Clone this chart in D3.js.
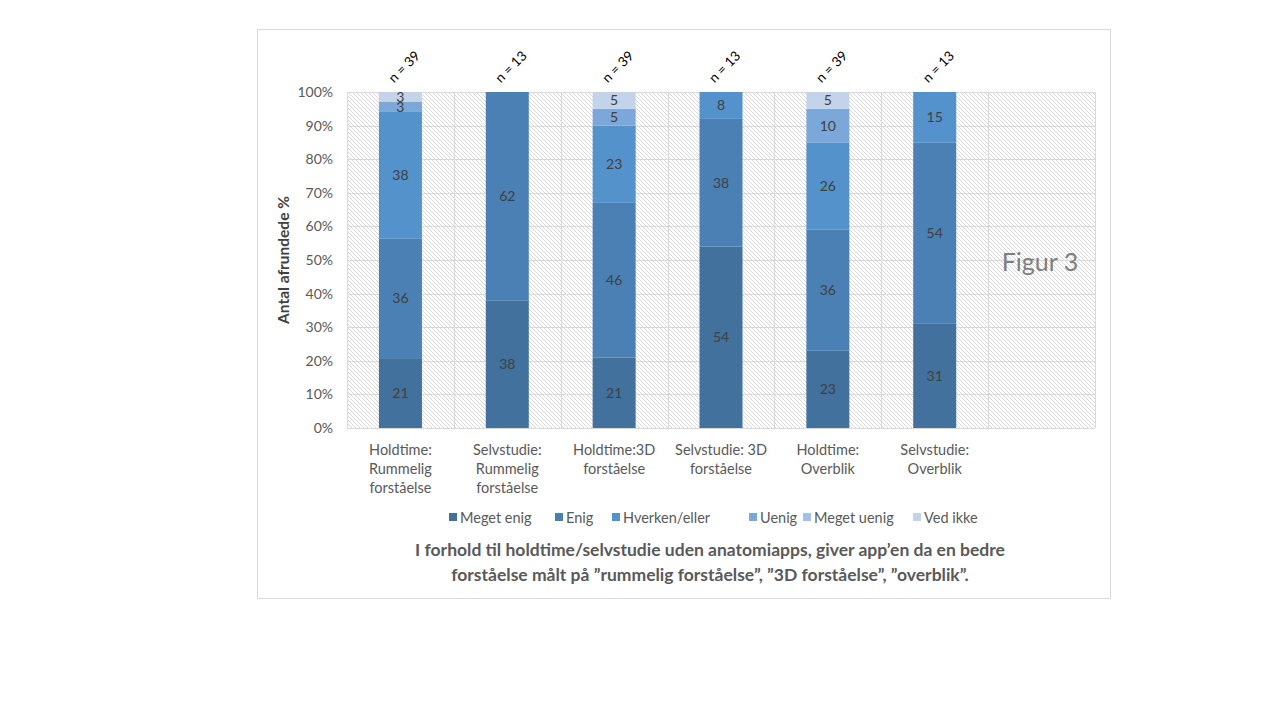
<!DOCTYPE html>
<html><head><meta charset="utf-8">
<script src="https://cdn.jsdelivr.net/npm/d3@7"></script>
<style>body{margin:0;background:#fff;} svg{display:block;} text{font-family:Lato,"Open Sans",sans-serif;}</style>
</head><body>
<svg id="c" width="1280" height="720"></svg>
<script>
const categories = [
  ["Holdtime:","Rummelig","forståelse"],
  ["Selvstudie:","Rummelig","forståelse"],
  ["Holdtime:3D","forståelse"],
  ["Selvstudie: 3D","forståelse"],
  ["Holdtime:","Overblik"],
  ["Selvstudie:","Overblik"],
  [""]
];
const nLabels = ["n = 39","n = 13","n = 39","n = 13","n = 39","n = 13"];
const seriesNames = ["Meget enig","Enig","Hverken/eller","Uenig","Meget uenig","Ved ikke"];
const colors = ["#41719c","#4a80b4","#5492cb","#7ba7d9","#a2c0e7","#c3d3ea"];
const megetEnig   = [21,38,21,54,23,31];
const enig        = [36,62,46,38,36,54];
const hverken     = [38,0,23,8,26,15];
const uenig       = [3,0,5,0,10,0];
const megetUenig  = [0,0,0,0,0,0];
const vedIkke     = [3,0,5,0,5,0];
const yTicks = [0,0.1,0.2,0.3,0.4,0.5,0.6,0.7,0.8,0.9,1];

const seriesVals = [megetEnig,enig,hverken,uenig,megetUenig,vedIkke];
const rows = megetEnig.map((_,i)=>{const r={idx:i}; seriesNames.forEach((s,j)=>r[s]=seriesVals[j][i]); return r;});

const svg = d3.select("#c");
// frame
svg.append("rect").attr("x",257.5).attr("y",29.5).attr("width",853).attr("height",569).attr("fill","#fff").attr("stroke","#d9d9d9");

const defs = svg.append("defs");
const pat = defs.append("pattern").attr("id","hatch").attr("patternUnits","userSpaceOnUse").attr("width",4).attr("height",4);
pat.append("rect").attr("width",4).attr("height",4).attr("fill","#fff");
pat.append("path").attr("d","M-1,-1 L5,5 M-1,3 L1,5 M3,-1 L5,1").attr("stroke","#cfcfcf").attr("stroke-width",0.8);

const L=347,R=1095,T=92,B=428;
const x = d3.scaleBand().domain(d3.range(categories.length)).range([L,R]).paddingInner(0).paddingOuter(0);
const y = d3.scaleLinear().domain([0,1]).range([B,T]);
const barW = 43;

svg.append("rect").attr("x",L).attr("y",T).attr("width",R-L).attr("height",B-T).attr("fill","url(#hatch)");

// gridlines
svg.append("g").selectAll("line").data(yTicks).join("line")
  .attr("x1",L).attr("x2",R).attr("y1",d=>Math.round(y(d))+0.5).attr("y2",d=>Math.round(y(d))+0.5)
  .attr("stroke","#d9d9d9").attr("stroke-width",1);
svg.append("g").selectAll("line").data(d3.range(categories.length+1)).join("line")
  .attr("x1",d=>Math.round(L+d*x.bandwidth())+0.5).attr("x2",d=>Math.round(L+d*x.bandwidth())+0.5)
  .attr("y1",T).attr("y2",B).attr("stroke","#d9d9d9").attr("stroke-width",1);

// y axis
const yAxis = d3.axisLeft(y).tickValues(yTicks).tickFormat(d3.format(".0%")).tickSize(0).tickPadding(14);
const ga = svg.append("g").attr("transform",`translate(${L},0)`).call(yAxis);
ga.select(".domain").remove();
ga.selectAll("text").attr("font-size",14).attr("fill","#595959").attr("font-family","Lato,sans-serif");

svg.append("text").attr("transform","translate(289,260) rotate(-90)").attr("text-anchor","middle")
  .attr("font-size",15.5).attr("font-weight","bold").attr("fill","#404040").text("Antal afrundede %");

// stack
const stack = d3.stack().keys(seriesNames).offset(d3.stackOffsetExpand);
const stacked = stack(rows);
const gs = svg.append("g").selectAll("g").data(stacked).join("g").attr("fill",(d,i)=>colors[i]);
gs.selectAll("rect").data(d=>d).join("rect")
  .attr("x",d=>x(d.data.idx)+x.bandwidth()/2-barW/2).attr("width",barW)
  .attr("y",d=>y(d[1])).attr("height",d=>y(d[0])-y(d[1]));

// labels
stacked.forEach((s,j)=>{
  svg.append("g").selectAll("text").data(s.filter(d=>d.data[s.key]>0)).join("text")
    .attr("x",d=>x(d.data.idx)+x.bandwidth()/2).attr("y",d=>(y(d[0])+y(d[1]))/2+5)
    .attr("text-anchor","middle").attr("font-size",14).attr("fill","#404040")
    .text(d=>d.data[s.key]);
});

// n labels
svg.append("g").selectAll("text").data(nLabels).join("text")
  .attr("transform",(d,i)=>`translate(${x(i)+x.bandwidth()/2+7},${70}) rotate(-45)`)
  .attr("text-anchor","middle").attr("font-size",13.5).attr("fill","#000").text(d=>d);

// category labels
const gc = svg.append("g").selectAll("text").data(categories).join("text")
  .attr("text-anchor","middle").attr("font-size",14.5).attr("fill","#595959");
gc.each(function(d,i){
  const t=d3.select(this);
  d.forEach((line,k)=>t.append("tspan").attr("x",x(i)+x.bandwidth()/2).attr("y",455+k*19).text(line));
});

// legend
const legX = [449,555,612,749,803,913];
const lg = svg.append("g").selectAll("g").data(seriesNames).join("g").attr("transform",(d,i)=>`translate(${legX[i]},518)`);
lg.append("rect").attr("x",0).attr("y",-5).attr("width",8).attr("height",8).attr("fill",(d,i)=>colors[i]);
lg.append("text").attr("x",11).attr("y",5).attr("font-size",14.5).attr("fill","#595959").text(d=>d);

// title
svg.append("text").attr("x",710).attr("y",556).attr("text-anchor","middle").attr("font-size",17.5).attr("font-weight","bold").attr("fill","#595959")
  .text("I forhold til holdtime/selvstudie uden anatomiapps, giver app’en da en bedre");
svg.append("text").attr("x",710).attr("y",581).attr("text-anchor","middle").attr("font-size",17.5).attr("font-weight","bold").attr("fill","#595959")
  .text("forståelse målt på ”rummelig forståelse”, ”3D forståelse”, ”overblik”.");

svg.append("text").attr("x",1040).attr("y",271).attr("text-anchor","middle").attr("font-size",25).attr("fill","#7f7f7f").text("Figur 3");
</script>
</body></html>
